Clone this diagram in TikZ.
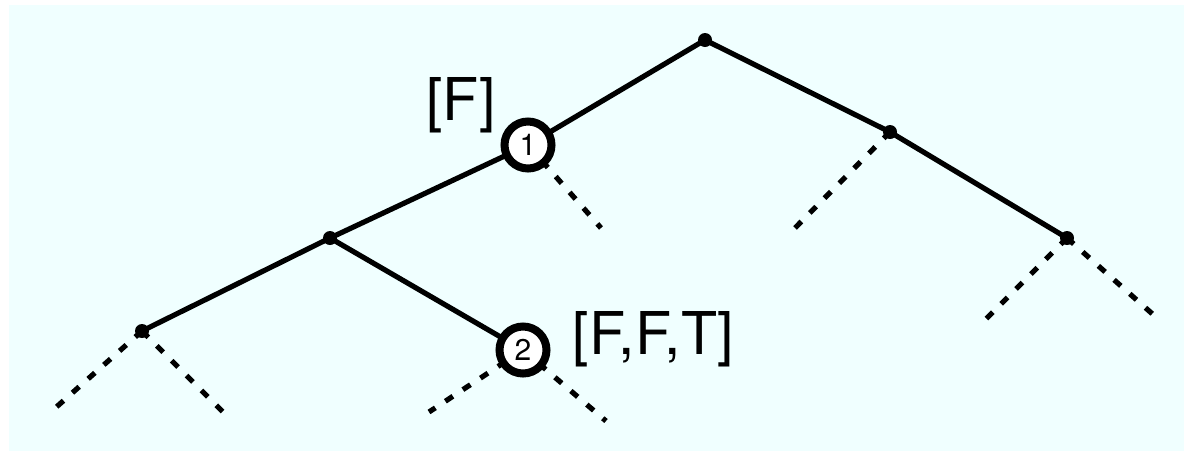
\documentclass[tikz,border=0pt]{standalone}
\usepackage{fontspec}
\setmainfont{TeX Gyre Heros}
\definecolor{bg}{HTML}{F0FFFF}
\begin{document}
\begin{tikzpicture}[x=1pt,y=-1pt,
  edge/.style={line width=5.2pt},
  dashedge/.style={line width=5.2pt,dash pattern=on 9pt off 12pt},
  dot/.style={circle,fill=black,inner sep=0pt,minimum size=14pt},
  numnode/.style={circle,draw=black,line width=8pt,fill=white,inner sep=0pt,minimum size=47pt,font=\fontsize{30}{30}\selectfont},
  lbl/.style={inner sep=0pt,anchor=base,font=\fontsize{59}{59}\selectfont}]
\useasboundingbox (0,0) rectangle (1184,451);
\fill[bg] (9,5) rectangle (1184,451);
% coordinates
\coordinate (root) at (705,40);
\coordinate (n1c) at (528,145);
\coordinate (r) at (890,132);
\coordinate (B) at (330,238);
\coordinate (C) at (142,331);
\coordinate (n2c) at (523,350);
\coordinate (rr) at (1067,238);
\coordinate (d1) at (601,228);
\coordinate (d2) at (790,233);
\coordinate (d3) at (53,410);
\coordinate (d4) at (227,416);
\coordinate (d5) at (429,412);
\coordinate (d6) at (606,421);
\coordinate (d7) at (983,322);
\coordinate (d8) at (1157,318);
% dashed
\draw[dashedge] (n1c) -- (d1);
\draw[dashedge] (r) -- (d2);
\draw[dashedge] (C) -- (d3);
\draw[dashedge] (C) -- (d4);
\draw[dashedge] (n2c) -- (d5);
\draw[dashedge] (n2c) -- (d6);
\draw[dashedge] (rr) -- (d7);
\draw[dashedge] (rr) -- (d8);
% solid
\draw[edge] (root) -- (n1c);
\draw[edge] (root) -- (r);
\draw[edge] (n1c) -- (B);
\draw[edge] (B) -- (C);
\draw[edge] (B) -- (n2c);
\draw[edge] (r) -- (rr);
% dots
\node[dot] (rootd) at (root) {};
\node[dot] (rd) at (r) {};
\node[dot] (Bd) at (B) {};
\node[dot] (Cd) at (C) {};
\node[dot] (rrd) at (rr) {};
% numbered
\node[numnode] (n1) at (n1c) {1};
\node[numnode] (n2) at (n2c) {2};
% labels
\node[lbl] (l1) at (461,120) {[F]};
\node[lbl] (l2) at (653,354) {[F,F,T]};
\end{tikzpicture}
\end{document}
